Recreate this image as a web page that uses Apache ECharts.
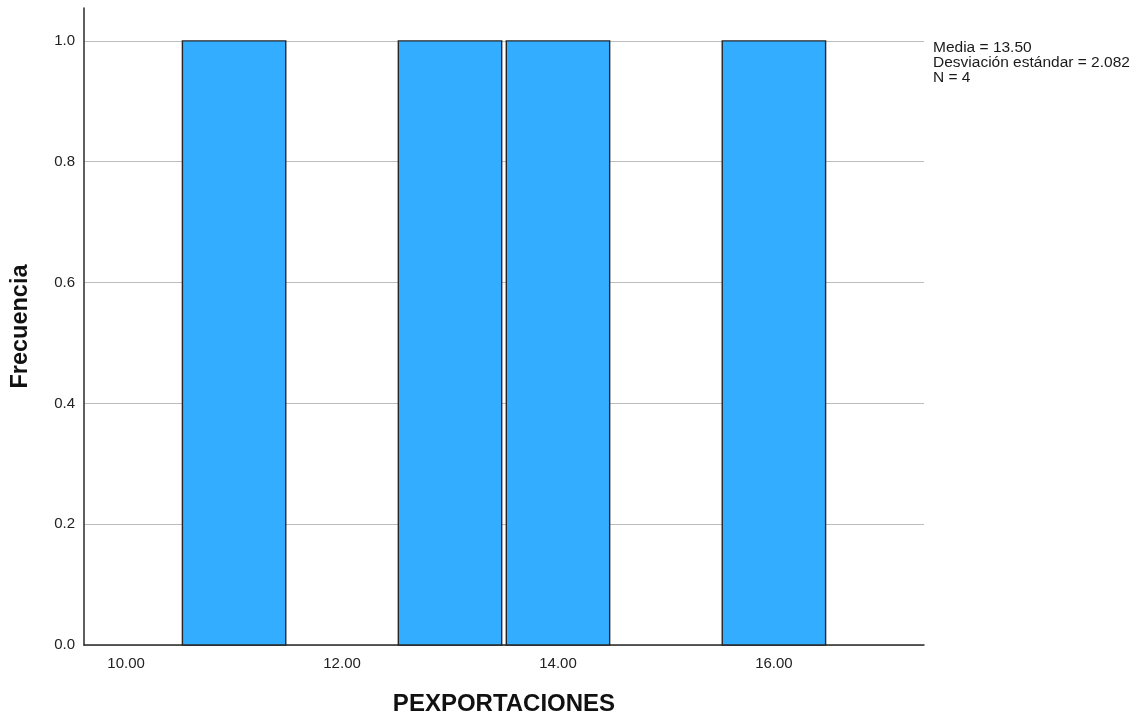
<!DOCTYPE html>
<html>
<head>
<meta charset="utf-8">
<script src="https://cdn.jsdelivr.net/npm/echarts@6/dist/echarts.min.js"></script>
<style>
html,body{margin:0;padding:0;background:#fff;}
#chart{width:1144px;height:721px;}
</style>
</head>
<body>
<div id="chart"></div>
<script>
// Histogram data (bin centres, bin width and frequencies)
const binCenters = [11, 13, 14, 16];
const frequencies = [1, 1, 1, 1];
const binWidth = 1;
const xTickValues = [10, 12, 14, 16];
const yTickValues = [0, 0.2, 0.4, 0.6, 0.8, 1.0];
// Raw observations (one per bar of frequency 1) used for the statistics box
const observations = [11, 13, 14, 16];

const n = observations.length;
const mean = observations.reduce((a, b) => a + b, 0) / n;
const sd = Math.sqrt(observations.reduce((a, b) => a + (b - mean) * (b - mean), 0) / (n - 1));

const barData = binCenters.map((c, i) => [c - binWidth / 2, c + binWidth / 2, frequencies[i]]);

const chart = echarts.init(document.getElementById('chart'));
const FONT = '"Liberation Sans", Arial, sans-serif';

chart.setOption({
  animation: false,
  backgroundColor: '#ffffff',
  title: {
    text: 'Media = ' + mean.toFixed(2) + '\nDesviación estándar = ' + sd.toFixed(3) + '\nN = ' + n,
    left: 933,
    top: 40,
    padding: 0,
    textStyle: { fontFamily: FONT, fontSize: 15.5, fontWeight: 'normal', color: '#1a1a1a', lineHeight: 15 }
  },
  grid: { left: 84, right: 220, top: 8, bottom: 74 },
  xAxis: {
    type: 'value',
    min: 9.61,
    max: 17.39,
    name: 'PEXPORTACIONES',
    nameLocation: 'middle',
    nameGap: 47,
    nameTextStyle: { fontFamily: FONT, fontSize: 24, fontWeight: 'bold', color: '#111' },
    axisLine: { show: true, lineStyle: { color: '#2a2a2a', width: 1.5 } },
    axisTick: { show: false, customValues: xTickValues },
    axisLabel: {
      customValues: xTickValues,
      formatter: v => Number(v).toFixed(2),
      fontFamily: FONT, fontSize: 15, color: '#222', margin: 11
    },
    splitLine: { show: false }
  },
  yAxis: {
    type: 'value',
    min: 0,
    max: 1.0545,
    name: 'Frecuencia',
    nameLocation: 'middle',
    nameGap: 51,
    nameRotate: 90,
    nameTextStyle: { fontFamily: FONT, fontSize: 23.5, fontWeight: 'bold', color: '#111' },
    axisLine: { show: true, lineStyle: { color: '#2a2a2a', width: 1.5 } },
    axisTick: { show: false, customValues: yTickValues },
    axisLabel: {
      customValues: yTickValues,
      formatter: v => Number(v).toFixed(1),
      fontFamily: FONT, fontSize: 15, color: '#222', margin: 9
    },
    splitLine: { show: true, lineStyle: { color: '#bdbdbd', width: 1.2 } }
  },
  series: [{
    type: 'custom',
    data: barData,
    encode: { x: [0, 1], y: 2 },
    renderItem: function (params, api) {
      const p0 = api.coord([api.value(0), 0]);
      const p1 = api.coord([api.value(1), api.value(2)]);
      const inset = 2.3;
      return {
        type: 'rect',
        shape: { x: p0[0] + inset, y: p1[1], width: p1[0] - p0[0] - 2 * inset, height: p0[1] - p1[1] },
        style: { fill: '#33adff', stroke: '#262626', lineWidth: 1.4 }
      };
    }
  }]
});
</script>
</body>
</html>
